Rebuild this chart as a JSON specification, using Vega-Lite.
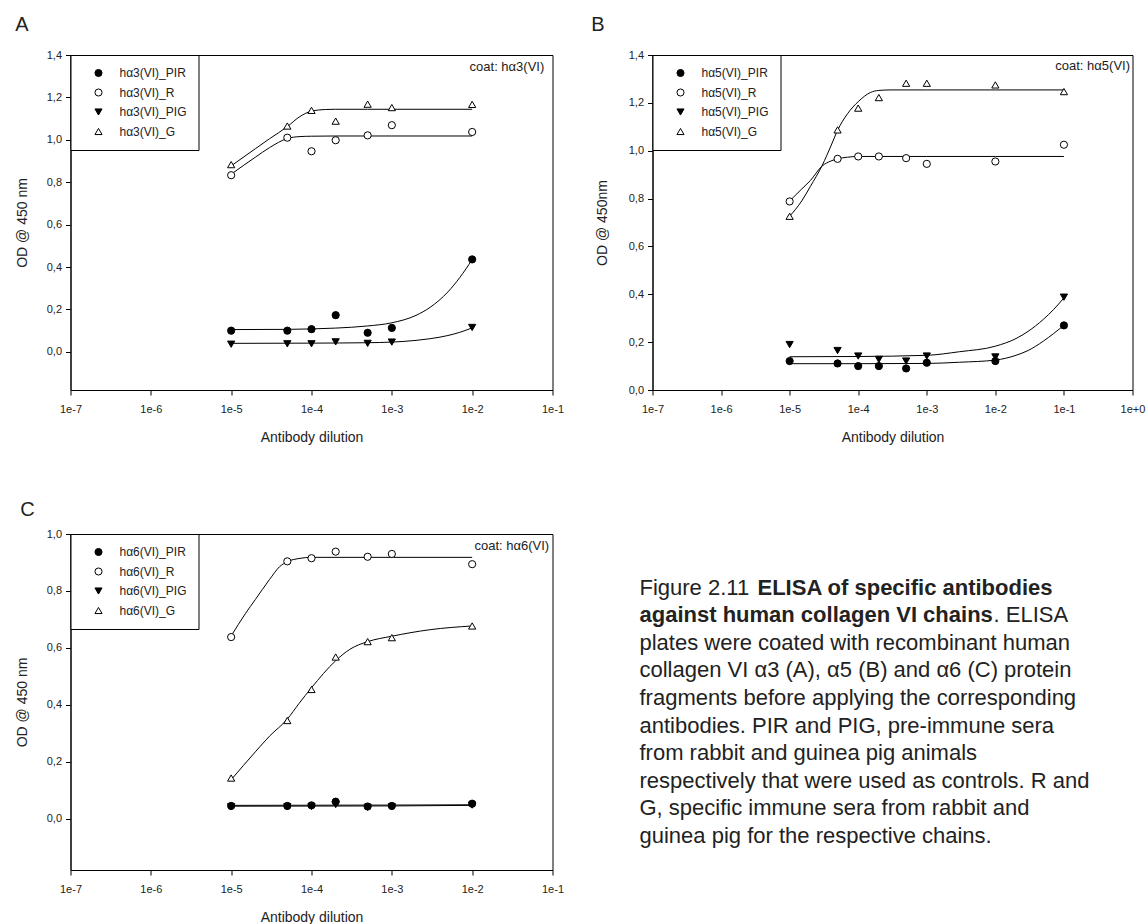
{
  "$schema": "https://vega.github.io/schema/vega-lite/v6.json",
  "background": "white",
  "padding": {"left": 14.5, "top": 14, "right": 2, "bottom": 2},
  "config": {
    "font": "Liberation Sans",
    "view": {"stroke": "black", "strokeWidth": 1},
    "axis": {"grid": false, "domainColor": "black", "tickColor": "black", "tickSize": 5, "labelFontSize": 11, "labelColor": "#222", "titleFontSize": 14, "titleFontWeight": "normal", "titleColor": "#222", "labelFont": "Liberation Sans", "titleFont": "Liberation Sans"},
    "axisX": {"labelPadding": 8, "titlePadding": 16, "labelFlush": false, "labelOverlap": false},
    "axisY": {"labelPadding": 4, "titlePadding": 17, "labelOverlap": false},
    "legend": {"orient": "top-left", "offset": 0, "padding": 12, "strokeColor": "black", "fillColor": "white", "cornerRadius": 0, "labelFontSize": 12, "labelColor": "#222", "labelFont": "Liberation Sans", "symbolSize": 50, "symbolStrokeWidth": 1, "rowPadding": 7.5, "symbolOffset": 10, "labelOffset": 15},
    "title": {"anchor": "start", "frame": "bounds", "fontSize": 20, "fontWeight": "normal", "color": "#222", "offset": 14, "font": "Liberation Sans"}
  },
  "datasets": {
    "A_pts": [
      {"series": "hα3(VI)_PIR", "x": 1e-5, "od": 0.100}, {"series": "hα3(VI)_PIR", "x": 5e-5, "od": 0.100}, {"series": "hα3(VI)_PIR", "x": 1e-4, "od": 0.107}, {"series": "hα3(VI)_PIR", "x": 2e-4, "od": 0.173}, {"series": "hα3(VI)_PIR", "x": 5e-4, "od": 0.090}, {"series": "hα3(VI)_PIR", "x": 1e-3, "od": 0.113}, {"series": "hα3(VI)_PIR", "x": 1e-2, "od": 0.436},
      {"series": "hα3(VI)_R", "x": 1e-5, "od": 0.833}, {"series": "hα3(VI)_R", "x": 5e-5, "od": 1.010}, {"series": "hα3(VI)_R", "x": 1e-4, "od": 0.946}, {"series": "hα3(VI)_R", "x": 2e-4, "od": 0.998}, {"series": "hα3(VI)_R", "x": 5e-4, "od": 1.021}, {"series": "hα3(VI)_R", "x": 1e-3, "od": 1.069}, {"series": "hα3(VI)_R", "x": 1e-2, "od": 1.037},
      {"series": "hα3(VI)_PIG", "x": 1e-5, "od": 0.036}, {"series": "hα3(VI)_PIG", "x": 5e-5, "od": 0.038}, {"series": "hα3(VI)_PIG", "x": 1e-4, "od": 0.038}, {"series": "hα3(VI)_PIG", "x": 2e-4, "od": 0.047}, {"series": "hα3(VI)_PIG", "x": 5e-4, "od": 0.040}, {"series": "hα3(VI)_PIG", "x": 1e-3, "od": 0.046}, {"series": "hα3(VI)_PIG", "x": 1e-2, "od": 0.115},
      {"series": "hα3(VI)_G", "x": 1e-5, "od": 0.883}, {"series": "hα3(VI)_G", "x": 5e-5, "od": 1.065}, {"series": "hα3(VI)_G", "x": 1e-4, "od": 1.139}, {"series": "hα3(VI)_G", "x": 2e-4, "od": 1.088}, {"series": "hα3(VI)_G", "x": 5e-4, "od": 1.168}, {"series": "hα3(VI)_G", "x": 1e-3, "od": 1.152}, {"series": "hα3(VI)_G", "x": 1e-2, "od": 1.167}
    ],
    "A_fit": [
      {"series": "G", "x": 1e-5, "od": 0.877}, {"series": "G", "x": 2e-5, "od": 0.958}, {"series": "G", "x": 3e-5, "od": 1.005}, {"series": "G", "x": 5e-5, "od": 1.062}, {"series": "G", "x": 7e-5, "od": 1.107}, {"series": "G", "x": 1e-4, "od": 1.135}, {"series": "G", "x": 1.5e-4, "od": 1.143}, {"series": "G", "x": 2e-4, "od": 1.144}, {"series": "G", "x": 5e-4, "od": 1.144}, {"series": "G", "x": 1e-3, "od": 1.144}, {"series": "G", "x": 1e-2, "od": 1.144},
      {"series": "R", "x": 1e-5, "od": 0.838}, {"series": "R", "x": 2e-5, "od": 0.918}, {"series": "R", "x": 3e-5, "od": 0.963}, {"series": "R", "x": 5e-5, "od": 1.006}, {"series": "R", "x": 7e-5, "od": 1.015}, {"series": "R", "x": 1e-4, "od": 1.017}, {"series": "R", "x": 2e-4, "od": 1.018}, {"series": "R", "x": 1e-3, "od": 1.018}, {"series": "R", "x": 1e-2, "od": 1.018},
      {"series": "PIR", "x": 1e-5, "od": 0.105}, {"series": "PIR", "x": 5e-5, "od": 0.106}, {"series": "PIR", "x": 1e-4, "od": 0.108}, {"series": "PIR", "x": 2e-4, "od": 0.112}, {"series": "PIR", "x": 5e-4, "od": 0.122}, {"series": "PIR", "x": 1e-3, "od": 0.137}, {"series": "PIR", "x": 2e-3, "od": 0.172}, {"series": "PIR", "x": 3e-3, "od": 0.21}, {"series": "PIR", "x": 5e-3, "od": 0.283}, {"series": "PIR", "x": 7e-3, "od": 0.35}, {"series": "PIR", "x": 1e-2, "od": 0.435},
      {"series": "PIG", "x": 1e-5, "od": 0.040}, {"series": "PIG", "x": 1e-4, "od": 0.041}, {"series": "PIG", "x": 5e-4, "od": 0.043}, {"series": "PIG", "x": 1e-3, "od": 0.046}, {"series": "PIG", "x": 2e-3, "od": 0.054}, {"series": "PIG", "x": 3e-3, "od": 0.062}, {"series": "PIG", "x": 5e-3, "od": 0.077}, {"series": "PIG", "x": 7e-3, "od": 0.092}, {"series": "PIG", "x": 1e-2, "od": 0.113}
    ],
    "B_pts": [
      {"series": "hα5(VI)_PIR", "x": 1e-5, "od": 0.121}, {"series": "hα5(VI)_PIR", "x": 5e-5, "od": 0.111}, {"series": "hα5(VI)_PIR", "x": 1e-4, "od": 0.100}, {"series": "hα5(VI)_PIR", "x": 2e-4, "od": 0.100}, {"series": "hα5(VI)_PIR", "x": 5e-4, "od": 0.090}, {"series": "hα5(VI)_PIR", "x": 1e-3, "od": 0.114}, {"series": "hα5(VI)_PIR", "x": 1e-2, "od": 0.121}, {"series": "hα5(VI)_PIR", "x": 1e-1, "od": 0.270},
      {"series": "hα5(VI)_R", "x": 1e-5, "od": 0.788}, {"series": "hα5(VI)_R", "x": 5e-5, "od": 0.966}, {"series": "hα5(VI)_R", "x": 1e-4, "od": 0.976}, {"series": "hα5(VI)_R", "x": 2e-4, "od": 0.976}, {"series": "hα5(VI)_R", "x": 5e-4, "od": 0.969}, {"series": "hα5(VI)_R", "x": 1e-3, "od": 0.945}, {"series": "hα5(VI)_R", "x": 1e-2, "od": 0.955}, {"series": "hα5(VI)_R", "x": 1e-1, "od": 1.025},
      {"series": "hα5(VI)_PIG", "x": 1e-5, "od": 0.190}, {"series": "hα5(VI)_PIG", "x": 5e-5, "od": 0.165}, {"series": "hα5(VI)_PIG", "x": 1e-4, "od": 0.142}, {"series": "hα5(VI)_PIG", "x": 2e-4, "od": 0.128}, {"series": "hα5(VI)_PIG", "x": 5e-4, "od": 0.121}, {"series": "hα5(VI)_PIG", "x": 1e-3, "od": 0.142}, {"series": "hα5(VI)_PIG", "x": 1e-2, "od": 0.138}, {"series": "hα5(VI)_PIG", "x": 1e-1, "od": 0.388},
      {"series": "hα5(VI)_G", "x": 1e-5, "od": 0.726}, {"series": "hα5(VI)_G", "x": 5e-5, "od": 1.087}, {"series": "hα5(VI)_G", "x": 1e-4, "od": 1.178}, {"series": "hα5(VI)_G", "x": 2e-4, "od": 1.222}, {"series": "hα5(VI)_G", "x": 5e-4, "od": 1.282}, {"series": "hα5(VI)_G", "x": 1e-3, "od": 1.282}, {"series": "hα5(VI)_G", "x": 1e-2, "od": 1.275}, {"series": "hα5(VI)_G", "x": 1e-1, "od": 1.247}
    ],
    "B_fit": [
      {"series": "G", "x": 1e-5, "od": 0.726}, {"series": "G", "x": 1.5e-5, "od": 0.79}, {"series": "G", "x": 2e-5, "od": 0.85}, {"series": "G", "x": 3e-5, "od": 0.94}, {"series": "G", "x": 4e-5, "od": 1.02}, {"series": "G", "x": 5e-5, "od": 1.085}, {"series": "G", "x": 7e-5, "od": 1.155}, {"series": "G", "x": 1e-4, "od": 1.205}, {"series": "G", "x": 1.5e-4, "od": 1.243}, {"series": "G", "x": 2e-4, "od": 1.252}, {"series": "G", "x": 3e-4, "od": 1.254}, {"series": "G", "x": 1e-3, "od": 1.254}, {"series": "G", "x": 1e-2, "od": 1.254}, {"series": "G", "x": 1e-1, "od": 1.254},
      {"series": "R", "x": 1e-5, "od": 0.79}, {"series": "R", "x": 1.5e-5, "od": 0.84}, {"series": "R", "x": 2e-5, "od": 0.875}, {"series": "R", "x": 3e-5, "od": 0.937}, {"series": "R", "x": 4e-5, "od": 0.957}, {"series": "R", "x": 5e-5, "od": 0.966}, {"series": "R", "x": 7e-5, "od": 0.973}, {"series": "R", "x": 1e-4, "od": 0.976}, {"series": "R", "x": 1e-3, "od": 0.976}, {"series": "R", "x": 1e-2, "od": 0.976}, {"series": "R", "x": 1e-1, "od": 0.976},
      {"series": "PIG", "x": 1e-5, "od": 0.139}, {"series": "PIG", "x": 1e-4, "od": 0.140}, {"series": "PIG", "x": 1e-3, "od": 0.145}, {"series": "PIG", "x": 3e-3, "od": 0.160}, {"series": "PIG", "x": 1e-2, "od": 0.183}, {"series": "PIG", "x": 2e-2, "od": 0.215}, {"series": "PIG", "x": 3e-2, "od": 0.245}, {"series": "PIG", "x": 5e-2, "od": 0.295}, {"series": "PIG", "x": 7e-2, "od": 0.335}, {"series": "PIG", "x": 1e-1, "od": 0.385},
      {"series": "PIR", "x": 1e-5, "od": 0.110}, {"series": "PIR", "x": 1e-4, "od": 0.110}, {"series": "PIR", "x": 1e-3, "od": 0.111}, {"series": "PIR", "x": 3e-3, "od": 0.116}, {"series": "PIR", "x": 1e-2, "od": 0.125}, {"series": "PIR", "x": 2e-2, "od": 0.145}, {"series": "PIR", "x": 3e-2, "od": 0.165}, {"series": "PIR", "x": 5e-2, "od": 0.204}, {"series": "PIR", "x": 7e-2, "od": 0.235}, {"series": "PIR", "x": 1e-1, "od": 0.270}
    ],
    "C_pts": [
      {"series": "hα6(VI)_PIR", "x": 1e-5, "od": 0.045}, {"series": "hα6(VI)_PIR", "x": 5e-5, "od": 0.045}, {"series": "hα6(VI)_PIR", "x": 1e-4, "od": 0.047}, {"series": "hα6(VI)_PIR", "x": 2e-4, "od": 0.060}, {"series": "hα6(VI)_PIR", "x": 5e-4, "od": 0.043}, {"series": "hα6(VI)_PIR", "x": 1e-3, "od": 0.045}, {"series": "hα6(VI)_PIR", "x": 1e-2, "od": 0.053},
      {"series": "hα6(VI)_R", "x": 1e-5, "od": 0.638}, {"series": "hα6(VI)_R", "x": 5e-5, "od": 0.904}, {"series": "hα6(VI)_R", "x": 1e-4, "od": 0.915}, {"series": "hα6(VI)_R", "x": 2e-4, "od": 0.938}, {"series": "hα6(VI)_R", "x": 5e-4, "od": 0.920}, {"series": "hα6(VI)_R", "x": 1e-3, "od": 0.930}, {"series": "hα6(VI)_R", "x": 1e-2, "od": 0.894},
      {"series": "hα6(VI)_PIG", "x": 1e-5, "od": 0.042}, {"series": "hα6(VI)_PIG", "x": 5e-5, "od": 0.042}, {"series": "hα6(VI)_PIG", "x": 1e-4, "od": 0.043}, {"series": "hα6(VI)_PIG", "x": 2e-4, "od": 0.050}, {"series": "hα6(VI)_PIG", "x": 5e-4, "od": 0.040}, {"series": "hα6(VI)_PIG", "x": 1e-3, "od": 0.042}, {"series": "hα6(VI)_PIG", "x": 1e-2, "od": 0.048},
      {"series": "hα6(VI)_G", "x": 1e-5, "od": 0.143}, {"series": "hα6(VI)_G", "x": 5e-5, "od": 0.345}, {"series": "hα6(VI)_G", "x": 1e-4, "od": 0.454}, {"series": "hα6(VI)_G", "x": 2e-4, "od": 0.568}, {"series": "hα6(VI)_G", "x": 5e-4, "od": 0.622}, {"series": "hα6(VI)_G", "x": 1e-3, "od": 0.636}, {"series": "hα6(VI)_G", "x": 1e-2, "od": 0.677}
    ],
    "C_fit": [
      {"series": "R", "x": 1e-5, "od": 0.642}, {"series": "R", "x": 1.5e-5, "od": 0.72}, {"series": "R", "x": 2e-5, "od": 0.77}, {"series": "R", "x": 3e-5, "od": 0.84}, {"series": "R", "x": 4e-5, "od": 0.885}, {"series": "R", "x": 5e-5, "od": 0.903}, {"series": "R", "x": 7e-5, "od": 0.914}, {"series": "R", "x": 1e-4, "od": 0.918}, {"series": "R", "x": 1e-3, "od": 0.918}, {"series": "R", "x": 1e-2, "od": 0.918},
      {"series": "G", "x": 1e-5, "od": 0.137}, {"series": "G", "x": 2e-5, "od": 0.235}, {"series": "G", "x": 3e-5, "od": 0.29}, {"series": "G", "x": 5e-5, "od": 0.35}, {"series": "G", "x": 7e-5, "od": 0.405}, {"series": "G", "x": 1e-4, "od": 0.46}, {"series": "G", "x": 2e-4, "od": 0.555}, {"series": "G", "x": 3e-4, "od": 0.595}, {"series": "G", "x": 5e-4, "od": 0.622}, {"series": "G", "x": 1e-3, "od": 0.641}, {"series": "G", "x": 3e-3, "od": 0.664}, {"series": "G", "x": 1e-2, "od": 0.677},
      {"series": "PIR", "x": 1e-5, "od": 0.047}, {"series": "PIR", "x": 1e-3, "od": 0.048}, {"series": "PIR", "x": 1e-2, "od": 0.049},
      {"series": "PIG", "x": 1e-5, "od": 0.044}, {"series": "PIG", "x": 1e-3, "od": 0.045}, {"series": "PIG", "x": 1e-2, "od": 0.047}
    ],
    "caption": [
      {"line": 1, "part": "r0", "text": "Figure 2.11"},
      {"line": 1, "part": "b1", "text": "ELISA of specific antibodies"},
      {"line": 2, "part": "b0", "text": "against human collagen VI chains"},
      {"line": 2, "part": "r2", "text": ". ELISA"},
      {"line": 3, "part": "r0", "text": "plates were coated with recombinant human"},
      {"line": 4, "part": "r0", "text": "collagen VI α3 (A), α5 (B) and α6 (C) protein"},
      {"line": 5, "part": "r0", "text": "fragments before applying the corresponding"},
      {"line": 6, "part": "r0", "text": "antibodies. PIR and PIG, pre-immune sera"},
      {"line": 7, "part": "r0", "text": "from rabbit and guinea pig animals"},
      {"line": 8, "part": "r0", "text": "respectively that were used as controls. R and"},
      {"line": 9, "part": "r0", "text": "G, specific immune sera from rabbit and"},
      {"line": 10, "part": "r0", "text": "guinea pig for the respective chains."}
    ]
  },
  "bounds": "flush",
  "align": "all",
  "columns": 2,
  "spacing": {"row": 143, "column": 85},
  "resolve": {"scale": {"shape": "independent", "fill": "independent", "stroke": "independent", "x": "independent", "y": "independent"}, "legend": {"shape": "independent", "fill": "independent", "stroke": "independent"}},
  "concat": [
    {
      "title": {"text": "A"},
      "width": 482, "height": 335,
      "layer": [
        {
          "data": {"name": "A_fit"},
          "mark": {"type": "line", "color": "black", "strokeWidth": 1, "interpolate": "monotone"},
          "encoding": {
            "x": {"field": "x", "type": "quantitative", "scale": {"type": "log", "domain": [1e-7, 0.1], "nice": false}, "axis": {"title": "Antibody dilution", "values": [1e-7, 1e-6, 1e-5, 1e-4, 1e-3, 1e-2, 1e-1], "labelExpr": "'1e' + (round(log(datum.value)/LN10) >= 0 ? '+' : '') + round(log(datum.value)/LN10)"}},
            "y": {"field": "od", "type": "quantitative", "scale": {"domain": [-0.18, 1.4], "nice": false, "zero": false}, "axis": {"title": "OD @ 450 nm", "values": [0, 0.2, 0.4, 0.6, 0.8, 1.0, 1.2, 1.4], "labelExpr": "replace(format(datum.value, '.1f'), '.', ',')"}},
            "detail": {"field": "series", "type": "nominal"}
          }
        },
        {
          "data": {"name": "A_pts"},
          "mark": {"type": "point", "filled": true, "strokeWidth": 1, "size": 52, "opacity": 1},
          "encoding": {
            "x": {"field": "x", "type": "quantitative"},
            "y": {"field": "od", "type": "quantitative"},
            "shape": {"field": "series", "type": "nominal", "scale": {"domain": ["hα3(VI)_PIR", "hα3(VI)_R", "hα3(VI)_PIG", "hα3(VI)_G"], "range": ["circle", "circle", "triangle-down", "triangle-up"]}, "legend": {"title": null}},
            "fill": {"field": "series", "type": "nominal", "scale": {"domain": ["hα3(VI)_PIR", "hα3(VI)_R", "hα3(VI)_PIG", "hα3(VI)_G"], "range": ["black", "white", "black", "white"]}, "legend": {"title": null}},
            "stroke": {"field": "series", "type": "nominal", "scale": {"domain": ["hα3(VI)_PIR", "hα3(VI)_R", "hα3(VI)_PIG", "hα3(VI)_G"], "range": ["black", "black", "black", "black"]}, "legend": {"title": null}}
          }
        },
        {
          "data": {"values": [{"t": "coat: hα3(VI)"}]},
          "mark": {"type": "text", "align": "right", "baseline": "middle", "fontSize": 13, "color": "#222"},
          "encoding": {"x": {"datum": 0.079, "type": "quantitative"}, "y": {"datum": 1.343, "type": "quantitative"}, "text": {"field": "t"}}
        }
      ]
    },
    {
      "title": {"text": "B", "dx": -4},
      "width": 480, "height": 335,
      "layer": [
        {
          "data": {"name": "B_fit"},
          "mark": {"type": "line", "color": "black", "strokeWidth": 1, "interpolate": "monotone"},
          "encoding": {
            "x": {"field": "x", "type": "quantitative", "scale": {"type": "log", "domain": [1e-7, 1], "nice": false}, "axis": {"title": "Antibody dilution", "values": [1e-7, 1e-6, 1e-5, 1e-4, 1e-3, 1e-2, 1e-1, 1], "labelExpr": "'1e' + (round(log(datum.value)/LN10) >= 0 ? '+' : '') + round(log(datum.value)/LN10)"}},
            "y": {"field": "od", "type": "quantitative", "scale": {"domain": [0, 1.4], "nice": false, "zero": false}, "axis": {"title": "OD @ 450nm", "titlePadding": 19, "values": [0, 0.2, 0.4, 0.6, 0.8, 1.0, 1.2, 1.4], "labelExpr": "replace(format(datum.value, '.1f'), '.', ',')"}},
            "detail": {"field": "series", "type": "nominal"}
          }
        },
        {
          "data": {"name": "B_pts"},
          "mark": {"type": "point", "filled": true, "strokeWidth": 1, "size": 52, "opacity": 1},
          "encoding": {
            "x": {"field": "x", "type": "quantitative"},
            "y": {"field": "od", "type": "quantitative"},
            "shape": {"field": "series", "type": "nominal", "scale": {"domain": ["hα5(VI)_PIR", "hα5(VI)_R", "hα5(VI)_PIG", "hα5(VI)_G"], "range": ["circle", "circle", "triangle-down", "triangle-up"]}, "legend": {"title": null}},
            "fill": {"field": "series", "type": "nominal", "scale": {"domain": ["hα5(VI)_PIR", "hα5(VI)_R", "hα5(VI)_PIG", "hα5(VI)_G"], "range": ["black", "white", "black", "white"]}, "legend": {"title": null}},
            "stroke": {"field": "series", "type": "nominal", "scale": {"domain": ["hα5(VI)_PIR", "hα5(VI)_R", "hα5(VI)_PIG", "hα5(VI)_G"], "range": ["black", "black", "black", "black"]}, "legend": {"title": null}}
          }
        },
        {
          "data": {"values": [{"t": "coat: hα5(VI)"}]},
          "mark": {"type": "text", "align": "right", "baseline": "middle", "fontSize": 13, "color": "#222"},
          "encoding": {"x": {"datum": 0.92, "type": "quantitative"}, "y": {"datum": 1.353, "type": "quantitative"}, "text": {"field": "t"}}
        }
      ]
    },
    {
      "title": {"text": "C", "dx": 5, "offset": 8},
      "width": 482, "height": 336,
      "layer": [
        {
          "data": {"name": "C_fit"},
          "mark": {"type": "line", "color": "black", "strokeWidth": 1, "interpolate": "monotone"},
          "encoding": {
            "x": {"field": "x", "type": "quantitative", "scale": {"type": "log", "domain": [1e-7, 0.1], "nice": false}, "axis": {"title": "Antibody dilution", "values": [1e-7, 1e-6, 1e-5, 1e-4, 1e-3, 1e-2, 1e-1], "labelExpr": "'1e' + (round(log(datum.value)/LN10) >= 0 ? '+' : '') + round(log(datum.value)/LN10)"}},
            "y": {"field": "od", "type": "quantitative", "scale": {"domain": [-0.18, 1.0], "nice": false, "zero": false}, "axis": {"title": "OD @ 450 nm", "values": [0, 0.2, 0.4, 0.6, 0.8, 1.0], "labelExpr": "replace(format(datum.value, '.1f'), '.', ',')"}},
            "detail": {"field": "series", "type": "nominal"}
          }
        },
        {
          "data": {"name": "C_pts"},
          "mark": {"type": "point", "filled": true, "strokeWidth": 1, "size": 52, "opacity": 1},
          "encoding": {
            "x": {"field": "x", "type": "quantitative"},
            "y": {"field": "od", "type": "quantitative"},
            "shape": {"field": "series", "type": "nominal", "scale": {"domain": ["hα6(VI)_PIR", "hα6(VI)_R", "hα6(VI)_PIG", "hα6(VI)_G"], "range": ["circle", "circle", "triangle-down", "triangle-up"]}, "legend": {"title": null}},
            "fill": {"field": "series", "type": "nominal", "scale": {"domain": ["hα6(VI)_PIR", "hα6(VI)_R", "hα6(VI)_PIG", "hα6(VI)_G"], "range": ["black", "white", "black", "white"]}, "legend": {"title": null}},
            "stroke": {"field": "series", "type": "nominal", "scale": {"domain": ["hα6(VI)_PIR", "hα6(VI)_R", "hα6(VI)_PIG", "hα6(VI)_G"], "range": ["black", "black", "black", "black"]}, "legend": {"title": null}}
          }
        },
        {
          "data": {"values": [{"t": "coat: hα6(VI)"}]},
          "mark": {"type": "text", "align": "right", "baseline": "middle", "fontSize": 13, "color": "#222"},
          "encoding": {"x": {"datum": 0.091, "type": "quantitative"}, "y": {"datum": 0.959, "type": "quantitative"}, "text": {"field": "t"}}
        }
      ]
    },
    {
      "width": 497, "height": 330,
      "view": {"stroke": null},
      "data": {"name": "caption"},
      "encoding": {
        "x": {"value": 0},
        "y": {"field": "line", "type": "quantitative", "scale": {"domain": [-1.2, 10.76], "reverse": true, "nice": false, "zero": false}, "axis": null},
        "text": {"field": "text", "type": "nominal"}
      },
      "layer": [
        {"transform": [{"filter": "datum.part == 'r0'"}], "mark": {"type": "text", "align": "left", "baseline": "alphabetic", "fontSize": 22, "color": "#222", "dx": -13}},
        {"transform": [{"filter": "datum.part == 'b1'"}], "mark": {"type": "text", "align": "left", "baseline": "alphabetic", "fontSize": 22, "fontWeight": "bold", "color": "#222", "dx": 105}},
        {"transform": [{"filter": "datum.part == 'b0'"}], "mark": {"type": "text", "align": "left", "baseline": "alphabetic", "fontSize": 22, "fontWeight": "bold", "color": "#222", "dx": -13}},
        {"transform": [{"filter": "datum.part == 'r2'"}], "mark": {"type": "text", "align": "left", "baseline": "alphabetic", "fontSize": 22, "color": "#222", "dx": 341}}
      ]
    }
  ]
}
